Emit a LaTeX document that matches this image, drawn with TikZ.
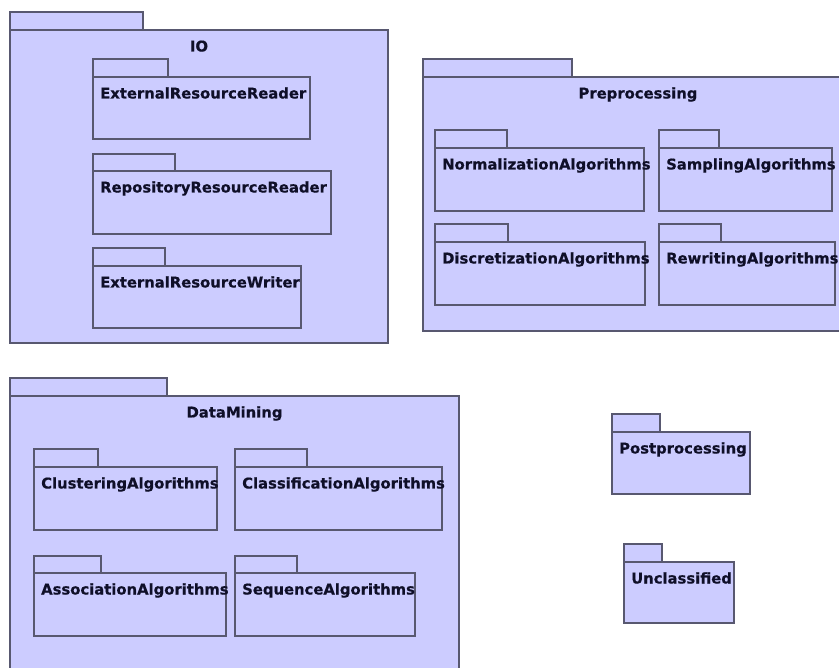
\documentclass[tikz,border=0pt]{standalone}
\usepackage{fontspec}
\setmainfont{DejaVu Sans}[BoldFeatures={FakeBold=0.5}]
\usetikzlibrary{calc}
\definecolor{pkgfill}{RGB}{204,204,255}
\definecolor{pkgline}{RGB}{88,88,112}
\definecolor{pkgtext}{RGB}{15,15,40}
\tikzset{
  pkgshape/.style={draw=pkgline, fill=pkgfill, line width=1.3pt},
  pkglabel/.style={font=\fontsize{14.8}{18}\selectfont\bfseries, text=pkgtext, inner sep=0pt}
}
% UML package: tab on top-left, body below it.
% #1 name, #2 left, #3 tab right, #4 tab top, #5 body top, #6 right, #7 bottom, #8 label
\newcommand\umlpkg[8]{%
  \draw[pkgshape] (#2,#4) rectangle (#3,#5);
  \draw[pkgshape] (#2,#5) rectangle (#6,#7);
  \coordinate (#1-nw) at (#2,#5);
  \node[pkglabel, anchor=base west] (#1-label) at ($(#1-nw)+(7,21.5)$) {#8};
}
% Package containing others: title centred in the body
\newcommand\umlgroup[8]{%
  \draw[pkgshape] (#2,#4) rectangle (#3,#5);
  \draw[pkgshape] (#2,#5) rectangle (#6,#7);
  \coordinate (#1-nw) at (#2,#5);
  \coordinate (#1-ne) at (#6,#5);
  \node[pkglabel, anchor=base] (#1-label) at ($($(#1-nw)!0.5!(#1-ne)$)+(0,21.5)$) {#8};
}
\begin{document}
\begin{tikzpicture}[x=1pt, y=-1pt]
  \fill[white] (0,0) rectangle (839,668);
  \clip (0,0) rectangle (839,668);

  % IO
  \umlgroup{io}{10}{143}{12}{30}{388}{343}{IO}
  \umlpkg{extreader}{93}{168}{59}{77}{310}{139}{ExternalResourceReader}
  \umlpkg{repreader}{93}{175}{154}{171}{331}{234}{RepositoryResourceReader}
  \umlpkg{extwriter}{93}{165}{248}{266}{301}{328}{ExternalResourceWriter}

  % Preprocessing
  \umlgroup{pre}{423}{572}{59}{77}{853}{331}{Preprocessing}
  \umlpkg{norm}{435}{507}{130}{148}{644}{211}{NormalizationAlgorithms}
  \umlpkg{samp}{659}{719}{130}{148}{832}{211}{SamplingAlgorithms}
  \umlpkg{disc}{435}{508}{224}{242}{645}{305}{DiscretizationAlgorithms}
  \umlpkg{rewr}{659}{721}{224}{242}{835}{305}{RewritingAlgorithms}

  % DataMining
  \umlgroup{dm}{10}{167}{378}{396}{459}{700}{DataMining}
  \umlpkg{clus}{34}{98}{449}{467}{217}{530}{ClusteringAlgorithms}
  \umlpkg{clas}{235}{307}{449}{467}{442}{530}{ClassificationAlgorithms}
  \umlpkg{asso}{34}{101}{556}{573}{226}{636}{AssociationAlgorithms}
  \umlpkg{seq}{235}{297}{556}{573}{415}{636}{SequenceAlgorithms}

  % Stand-alone packages
  \umlpkg{post}{612}{660}{414}{432}{750}{494}{Postprocessing}
  \umlpkg{uncl}{624}{662}{544}{562}{734}{623}{Unclassified}
\end{tikzpicture}
\end{document}
